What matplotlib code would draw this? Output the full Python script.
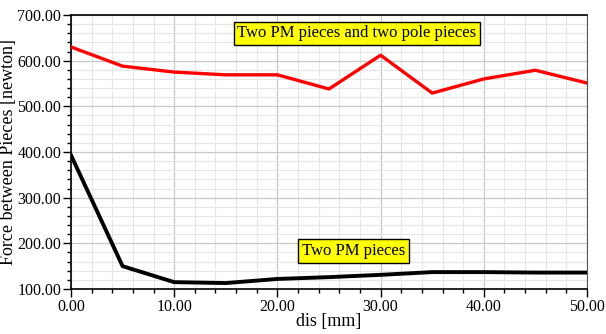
import matplotlib

matplotlib.use("Agg")
import matplotlib.pyplot as plt
from matplotlib.ticker import MultipleLocator, FormatStrFormatter

# Data
dis_mm = [0, 5, 10, 15, 20, 25, 30, 35, 40, 45, 50]
force_pm_pole = [630, 588, 575, 569, 569, 538, 612, 529, 560, 579, 551]
force_pm = [393, 150, 115, 113, 122, 126, 131, 137, 137, 136, 136]

plt.rcParams.update({
    "font.family": "Liberation Serif",
    "font.size": 11,
})

fig = plt.figure(figsize=(6.06, 3.34), dpi=100)
ax = fig.add_axes([71 / 606, 1 - 289 / 334, 516 / 606, 274 / 334])

ax.plot(dis_mm, force_pm_pole, color="#ff0000", linewidth=2.4, zorder=3)
ax.plot(dis_mm, force_pm, color="black", linewidth=2.8, zorder=3)

ax.set_xlim(0, 50)
ax.set_ylim(100, 700)
ax.xaxis.set_major_locator(MultipleLocator(10))
ax.xaxis.set_minor_locator(MultipleLocator(2))
ax.yaxis.set_major_locator(MultipleLocator(100))
ax.yaxis.set_minor_locator(MultipleLocator(20))
ax.xaxis.set_major_formatter(FormatStrFormatter("%.2f"))
ax.yaxis.set_major_formatter(FormatStrFormatter("%.2f"))

ax.grid(which="major", color="#c8c8c8", linewidth=0.9)
ax.grid(which="minor", color="#e6e6e6", linewidth=0.8)
ax.set_axisbelow(True)

ax.tick_params(which="major", direction="out", length=6, width=1, pad=1, labelsize=11.5)
ax.tick_params(which="minor", direction="out", length=3, width=1)
for side in ["left", "bottom", "top"]:
    ax.spines[side].set_color("black")
    ax.spines[side].set_linewidth(1.2)
ax.spines["right"].set_color("#555555")

ax.set_xlabel("dis [mm]", fontsize=13, labelpad=-1)
ax.set_ylabel("Force between Pieces [newton]", fontsize=13, labelpad=0)

box = dict(boxstyle="square,pad=0.22", facecolor="#ffff00", edgecolor="black", linewidth=1)
ax.text(27.7, 660, "Two PM pieces and two pole pieces", ha="center", va="center",
        fontsize=12, bbox=box, zorder=4)
ax.text(27.4, 183, "Two PM pieces", ha="center", va="center",
        fontsize=12, bbox=box, zorder=4)

fig.savefig("out.png", dpi=100)
